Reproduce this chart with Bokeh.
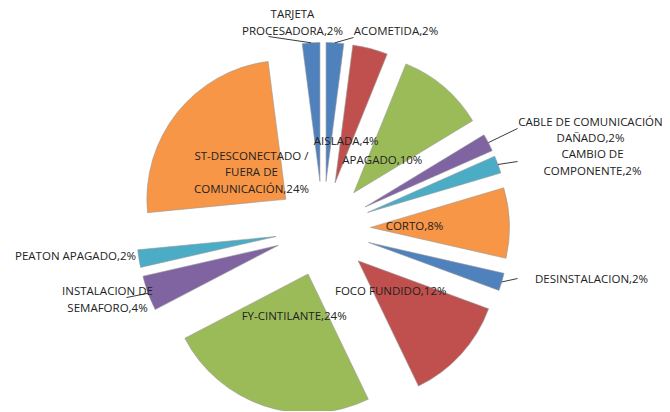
import numpy as np
from bokeh.plotting import figure
from bokeh.models import Range1d, ColumnDataSource
from bokeh.embed import file_html
from bokeh.resources import INLINE
from bokeh.core.properties import value

# ---- data ----
categories = ["ACOMETIDA", "AISLADA", "APAGADO", "CABLE DE COMUNICACIÓN DAÑADO",
              "CAMBIO DE COMPONENTE", "CORTO", "DESINSTALACION", "FOCO FUNDIDO",
              "FY-CINTILANTE", "INSTALACION DE SEMAFORO", "PEATON APAGADO",
              "ST-DESCONECTADO / FUERA DE COMUNICACIÓN", "TARJETA PROCESADORA"]
counts = [1, 2, 5, 1, 1, 4, 1, 6, 12, 2, 1, 12, 1]
label_lines = [["ACOMETIDA"], ["AISLADA"], ["APAGADO"], ["CABLE DE COMUNICACIÓN", "DAÑADO"],
               ["CAMBIO DE", "COMPONENTE"], ["CORTO"], ["DESINSTALACION"], ["FOCO FUNDIDO"],
               ["FY-CINTILANTE"], ["INSTALACION DE", "SEMAFORO"], ["PEATON APAGADO"],
               ["ST-DESCONECTADO /", "FUERA DE", "COMUNICACIÓN"], ["TARJETA", "PROCESADORA"]]
colors = ["#4F81BD", "#C0504D", "#9BBB59", "#8064A2", "#4BACC6", "#F79646",
          "#4F81BD", "#C0504D", "#9BBB59", "#8064A2", "#4BACC6", "#F79646", "#4F81BD"]

# ---- layout (screenshot pixels) ----
W, H = 662, 411
def dx(px): return px
def dy(py): return H - py

CX, CY = dx(322.5), dy(228.4)
R = 139
EXPL = 47.5
LINE_H = 16.5

# outside labels: block centre in px, and leader end point (or None)
outside = {
    "ACOMETIDA": ((395.5, 30), (353, 37)),
    "CABLE DE COMUNICACIÓN DAÑADO": ((590, 129), (517, 128)),
    "CAMBIO DE COMPONENTE": ((592, 161.5), (517, 161)),
    "DESINSTALACION": ((591, 278), (517, 278)),
    "INSTALACION DE SEMAFORO": ((107, 298.5), (126, 297)),
    "PEATON APAGADO": ((75, 255), None),
    "TARJETA PROCESADORA": ((292, 21.5), (268, 36)),
}

total = sum(counts)
frac = np.array(counts) / total
cum = np.concatenate([[0], np.cumsum(frac)]) * 2 * np.pi   # clockwise from top
th0, th1 = cum[:-1], cum[1:]
mid = (th0 + th1) / 2
pct = [f"{int(round(100 * f))}%" for f in frac]

ax = CX + EXPL * np.sin(mid)
ay = CY + EXPL * np.cos(mid)

src = ColumnDataSource(dict(x=ax, y=ay, start=np.pi / 2 - th0, end=np.pi / 2 - th1,
                            color=colors, cat=categories))

p = figure(width=W, height=H, output_backend="svg", toolbar_location=None,
           x_range=Range1d(0, W), y_range=Range1d(0, H), min_border=0,
           outline_line_color=None, background_fill_color="white", border_fill_color="white")
p.axis.visible = False
p.grid.visible = False

p.wedge(x="x", y="y", radius=R, radius_units="screen", start_angle="start", end_angle="end",
        direction="clock", fill_color="color", line_color="#9a9a9a", line_width=0.6, source=src)

tx, ty, tt = [], [], []
lx0, ly0, lx1, ly1 = [], [], [], []
for i, cat in enumerate(categories):
    lines = list(label_lines[i])
    lines[-1] = lines[-1] + "," + pct[i]
    if cat in outside:
        (bx, by), lead = outside[cat]
        bx, by = dx(bx), dy(by)
        if lead is not None:
            lx0.append(ax[i] + R * np.sin(mid[i]))
            ly0.append(ay[i] + R * np.cos(mid[i]))
            lx1.append(dx(lead[0]))
            ly1.append(dy(lead[1]))
    else:
        rr = 44
        bx = ax[i] + rr * np.sin(mid[i])
        by = ay[i] + rr * np.cos(mid[i])
    n = len(lines)
    for k, ln in enumerate(lines):
        tx.append(bx)
        ty.append(by + (n - 1) / 2 * LINE_H - k * LINE_H)
        tt.append(ln)

p.segment(x0=lx0, y0=ly0, x1=lx1, y1=ly1, line_color="#3a3a3a", line_width=1)

p.text(x=tx, y=ty, text=tt, text_font=value("Open Sans"), text_font_size="11.5px",
       text_color="#222222", text_align="center", text_baseline="middle")

open("out.html", "w").write(file_html(p, INLINE))
